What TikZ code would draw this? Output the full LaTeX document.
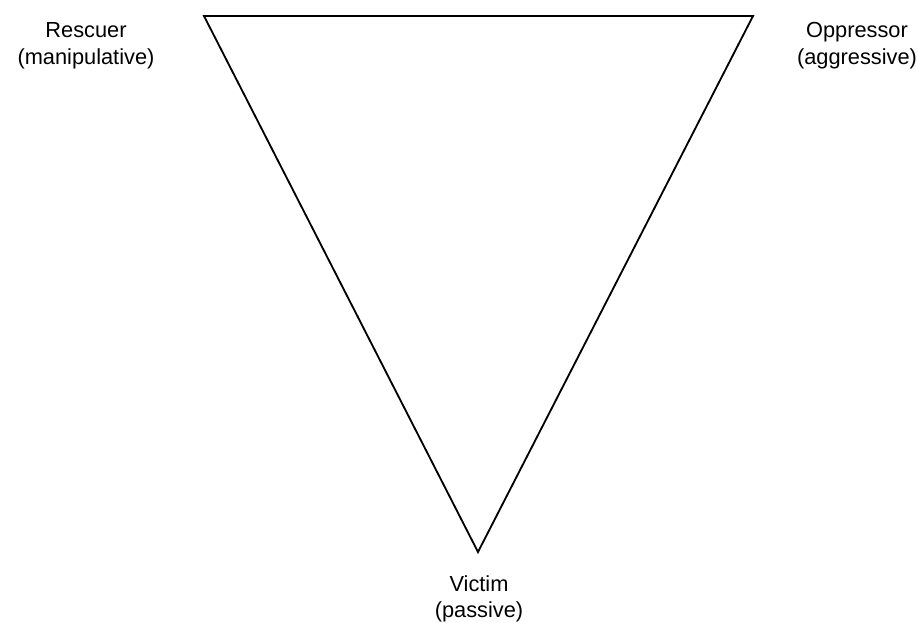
\documentclass[tikz,border=0pt]{standalone}
\usepackage{fontspec}
\setmainfont{Liberation Sans}
\usetikzlibrary{positioning}

\begin{document}
\begin{tikzpicture}[
  x=0.025cm, y=-0.025cm,
  role/.style={align=center, inner sep=0pt, font=\fontsize{15.5}{19}\selectfont},
  edge/.style={draw=black, line width=1.3pt, line join=miter},
]
\useasboundingbox (0,0) rectangle (917,623);
% corners of the triangle
\coordinate (rescuerpt)   at (204,16);
\coordinate (oppressorpt) at (753,16);
\coordinate (victimpt)    at (478,552);

\node[role] (rescuer)   at (86,46)  {Rescuer\\(manipulative)};
\node[role] (oppressor) at (857,46) {Oppressor\\(aggressive)};
\node[role] (victim)    at (479,599) {Victim\\(passive)};

\draw[edge] (rescuerpt) -- (oppressorpt) -- (victimpt) -- cycle;
\end{tikzpicture}
\end{document}
